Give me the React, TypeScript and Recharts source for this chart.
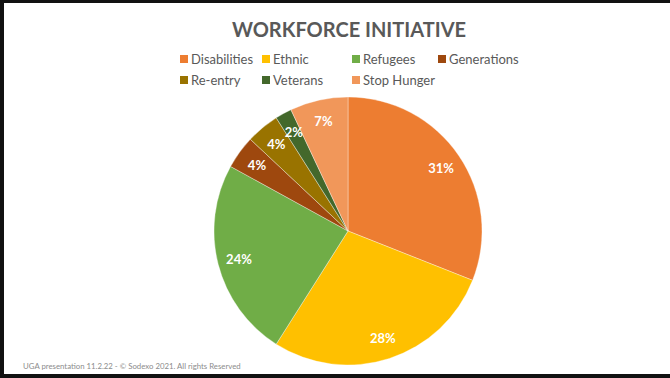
import React from 'react';
import { PieChart, Pie, Cell, Legend } from 'recharts';

const categories = ['Disabilities', 'Ethnic', 'Refugees', 'Generations', 'Re-entry', 'Veterans', 'Stop Hunger'];
const shares = [31, 28, 24, 4, 4, 2, 7];
const colors = ['#ED7D31', '#FFC000', '#70AD47', '#9E480E', '#997300', '#43682B', '#F1975A'];

const data = categories.map((name, i) => ({ name, value: shares[i] }));

const RADIAN = Math.PI / 180;

const renderLabel = (props: any) => {
  const { cx, cy, midAngle, outerRadius, value } = props;
  const r = outerRadius * 0.84;
  const x = cx + r * Math.cos(-midAngle * RADIAN);
  const y = cy + r * Math.sin(-midAngle * RADIAN);
  return (
    <text x={x} y={y} fill="#fff" textAnchor="middle" dominantBaseline="central"
      style={{ fontFamily: 'Lato', fontWeight: 700, fontSize: 13 }}>
      {value}%
    </text>
  );
};

// legend laid out in a 4-column grid like the slide
const colX = [180, 262, 352, 438];
const LegendGrid = () => (
  <div style={{ position: 'relative', width: 670, height: 40 }}>
    {categories.map((name, i) => {
      const col = i % 4;
      const row = Math.floor(i / 4);
      return (
        <div key={name} style={{ position: 'absolute', left: colX[col], top: row * 21, display: 'flex', alignItems: 'center', height: 16 }}>
          <span style={{ width: 8, height: 8, background: colors[i], display: 'inline-block', marginRight: 3 }} />
          <span style={{ fontFamily: 'Lato', fontSize: 13, color: '#595959' }}>{name}</span>
        </div>
      );
    })}
  </div>
);

export default function App() {
  return (
    <div style={{ position: 'fixed', left: 0, top: 0, width: 670, height: 378, background: '#fff', overflow: 'hidden' }}>
      <PieChart width={670} height={378} margin={{ top: 0, right: 0, bottom: 0, left: 0 }}
        style={{ position: 'absolute', left: 0, top: 0 }}>
        <Pie data={data} dataKey="value" nameKey="name" cx={348} cy={231} outerRadius={134}
          startAngle={90} endAngle={-270} label={renderLabel} labelLine={false}
          stroke="#ffffff" strokeOpacity={0.35} strokeWidth={1} isAnimationActive={false}>
          {data.map((d, i) => <Cell key={d.name} fill={colors[i]} />)}
        </Pie>
        <Legend content={<LegendGrid />} wrapperStyle={{ position: 'absolute', left: 0, top: 51, width: 670 }} />
      </PieChart>
      <div style={{ position: 'absolute', left: 0, top: 17, width: 698, textAlign: 'center', fontFamily: 'Lato', fontWeight: 700, fontSize: 20, color: '#595959' }}>
        WORKFORCE INITIATIVE
      </div>
      <div style={{ position: 'absolute', left: 23, top: 361, fontFamily: 'Lato', fontSize: 7.8, color: '#8c8c8c' }}>
        UGA presentation 11.2.22 - © Sodexo 2021. All rights Reserved
      </div>
      <div style={{ position: 'absolute', left: 0, top: 0, width: 670, height: 378, boxSizing: 'border-box', borderTop: '3px solid #111', borderLeft: '4px solid #111', borderBottom: '4px solid #111', pointerEvents: 'none' }} />
    </div>
  );
}
